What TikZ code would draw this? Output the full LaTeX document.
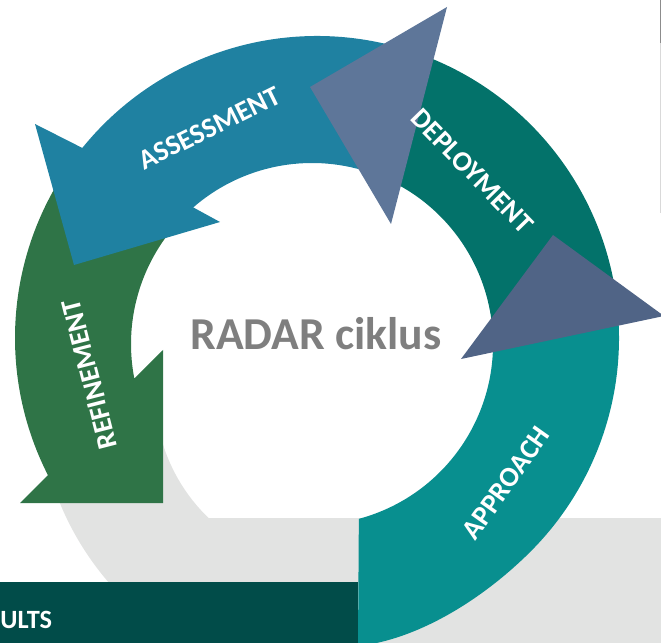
\documentclass[tikz,border=0pt]{standalone}
\usepackage{fontspec}
\setmainfont{Carlito}
\usetikzlibrary{calc}

\definecolor{assessblue}{HTML}{1F81A1}
\definecolor{deploygreen}{HTML}{03726A}
\definecolor{approachteal}{HTML}{088F8F}
\definecolor{refinegreen}{HTML}{2F7447}
\definecolor{headtop}{HTML}{5E7699}
\definecolor{headright}{HTML}{506486}
\definecolor{shadowgrey}{HTML}{E2E3E2}
\definecolor{barteal}{HTML}{014C49}
\definecolor{textgrey}{HTML}{7F7F7F}

\begin{document}
\begin{tikzpicture}
                        [
                            x=0.02cm, y=0.02cm,
                            word/.style = {text=white, inner sep=0pt, font=\fontsize{16}{19}\selectfont\bfseries},
                            title/.style = {text=textgrey, inner sep=0pt, font=\fontsize{26}{31}\selectfont\bfseries},
                        ]

                        \useasboundingbox (0,0) rectangle (661,642);
                        \clip (0,0) rectangle (661,642);

                        \coordinate (oc) at (317,304);
                        \coordinate (ic) at (312,298);
                        \coordinate (sc) at (330,250);

                        \fill[shadowgrey] ($(sc)+(180:292)$) arc[start angle=180, end angle=270, radius=292]
                            -- ($(sc)+(270:175)$) arc[start angle=270, end angle=180, radius=175] -- cycle;
                        \fill[shadowgrey] (203,-5) rectangle (666,124.5);
                        \fill[barteal] (-5,-5) rectangle (358,60);

                        \fill[refinegreen] ($(oc)+(143:302)$) arc[start angle=143, end angle=207, radius=302]
                            -- (20,139) -- (163,139) -- (163,292)
                            -- ($(ic)+(191:181)$) arc[start angle=191, end angle=143, radius=181] -- cycle;
                        \fill[assessblue] ($(oc)+(72:302)$) arc[start angle=72, end angle=141, radius=302]
                            -- (35,518) -- (74,377) -- (220,420)
                            -- ($(ic)+(131:181)$) arc[start angle=131, end angle=72, radius=181] -- cycle;
                        \fill[deploygreen] ($(oc)+(70:302)$) arc[start angle=70, end angle=3, radius=302]
                            -- ($(ic)+(3:181)$) arc[start angle=3, end angle=70, radius=181] -- cycle;
                        \fill[approachteal] ($(oc)+(5:302)$) arc[start angle=5, end angle=-45, radius=302]
                            .. controls (480,40) and (415,2) .. (358,-4)
                            -- ($(ic)+(-75:181)$) arc[start angle=-75, end angle=5, radius=181] -- cycle;

                        \fill[headtop] (310,555) -- (447,635) -- (391,418) -- cycle;
                        \fill[headright] (553,407) -- (664,326) -- (461,283) -- cycle;

                        \node[word, rotate=26.4] (assessment) at (209.5,514) {ASSESSMENT};
                        \node[word, rotate=-45.7] (deployment) at (472,471) {DEPLOYMENT};
                        \node[word, rotate=54.6] (approach) at (506,159) {APPROACH};
                        \node[word, rotate=104.4] (refinement) at (89.6,267.5) {REFINEMENT};
                        \node[title, anchor=base] (radar) at (316,292) {RADAR ciklus};
                        \node[word, anchor=base west, font=\fontsize{15}{18}\selectfont\bfseries] (results) at (0,14) {ULTS};

                        \draw[line width=0.5pt, black!15] (660.5,642) -- (660.5,429);
                        \draw[line width=0.5pt, black!45] (660.5,642) -- (660.5,599);
                    \end{tikzpicture}
\end{document}
